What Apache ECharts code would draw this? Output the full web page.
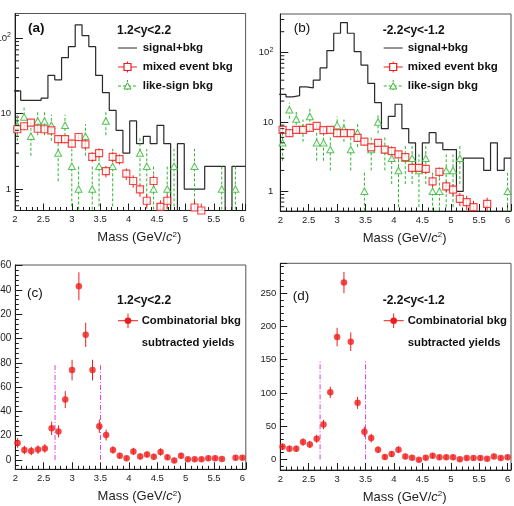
<!DOCTYPE html>
<html>
<head>
<meta charset="utf-8">
<title>Dimuon mass spectra</title>
<script src="https://cdn.jsdelivr.net/npm/echarts@6.0.0/dist/echarts.min.js"></script>
<style>
  html, body { margin: 0; padding: 0; background: #fff; }
  #chart { width: 514px; height: 506px; }
</style>
</head>
<body>
<div id="chart"></div>
<script>
// bin centres in GeV/c^2, bins are 0.12 wide
const massBins = [2.04, 2.16, 2.28, 2.40, 2.52, 2.64, 2.76, 2.88, 3.00, 3.12, 3.24, 3.36, 3.48, 3.60, 3.72, 3.84, 3.96,
  4.08, 4.20, 4.32, 4.44, 4.56, 4.68, 4.80, 4.92, 5.04, 5.16, 5.28, 5.40, 5.52, 5.64, 5.76, 5.88, 6.00]
const binHalf = 0.06
const massMin = 2
const massMax = 6.06
const massTicks = 0.5

// (a) 1.2<y<2.2
const sigBkgA = [20, 15, 15, 15, 16, 32, 28, 55, 77, 150, 108, 77, 32, 19, 11, 6, 3, 8, 4, 5, 4, 7, 4, 0, 4, 1, 1, 1, 2, 2, 2, 0, 2, 2]
const mixedA = [6.2, 6.8, 7.6, 6.3, 6.2, 6.0, 4.6, 4.6, 4.0, 4.9, 3.9, 2.67, 3.0, 1.73, 2.67, 2.5, 1.6, 1.28, 0.99, 0.70, 1.28, 0.58, 0.70,
  null, null, null, 0.57, 0.52, null, null, null, null, null, null]
const mixedErrA = [0.7, 0.75, 0.8, 0.7, 0.7, 0.7, 0.55, 0.55, 0.5, 0.6, 0.5, 0.4, 0.45, 0.3, 0.4, 0.38, 0.28, 0.24, 0.2, 0.15, 0.24, 0.13, 0.15,
  null, null, null, 0.13, 0.12, null, null, null, null, null, null]
const likeA = [7, 9, 5, 8, 8, 7, 3, 7, 2, 1, 5, 1, 2, 8, 2, null, null, null, 3, 2, 1, null, 1, 2, null, null, 2, null, null, null, 1, null, 1, null]
const likeErrA = [2.65, 3, 2.24, 2.83, 2.83, 2.65, 1.73, 2.65, 1.41, 1, 2.24, 1, 1.41, 2.83, 1.41, null, null, null, 1.73, 1.41, 1, null, 1, 1.41,
  null, null, 1.41, null, null, null, 1, null, 1, null]

// (b) -2.2<y<-1.2
const sigBkgB = [25, 23, 24, 32, 31, 40, 60, 107, 190, 271, 190, 103, 66, 36, 19, 8, 12, 18, 8, 5, 2, 5, 7, 5, 4, 4, 1, 3, 3, 3, 2, 5, 2, 3]
const mixedB = [7.7, 6.9, 7.7, 7.7, 8.2, 8.8, 7.6, 7.7, 6.9, 6.9, 6.9, 5.9, 5.2, 4.3, 5.0, 4.0, 3.8, 3.4, 3.1, 2.17, 2.17, 2.1, 1.39, 1.9,
  1.18, 1.06, 0.78, 0.70, 0.59, null, 0.66, null, null, null]
const mixedErrB = [0.8, 0.75, 0.8, 0.8, 0.85, 0.9, 0.8, 0.8, 0.75, 0.75, 0.75, 0.65, 0.6, 0.5, 0.55, 0.48, 0.45, 0.42, 0.4, 0.32, 0.32, 0.32,
  0.25, 0.3, 0.22, 0.2, 0.17, 0.16, 0.14, null, 0.15, null, null, null]
const likeB = [5, 15, 11, 8, 12, 5, 5, 4, 9, 8, 4, 7, 1, 4, 10, 4, 3, 2, 3, 3, 2, 3, 1, 1, 2, 2, 3, null, null, null, null, null, null, 1]
const likeErrB = [2.24, 3.87, 3.32, 2.83, 3.46, 2.24, 2.24, 2, 3, 2.83, 2, 2.65, 1, 2, 3.16, 2, 1.73, 1.41, 1.73, 1.73, 1.41, 1.73, 1, 1,
  1.41, 1.41, 1.73, null, null, null, null, null, null, 1]

// (c), (d) combinatorial background subtracted yields
const yieldC = [14, 8.2, 7.4, 8.5, 9.5, 26, 23.5, 49.7, 74, 143, 103, 74, 27.8, 20.5, 8.2, 3.5, 1.5, 7, 2.9, 4.5, 2.6, 6.6, 2.2, -0.5,
  3.5, 0.5, 0.5, 0.5, 1.5, 1.5, 0.7, null, 1.8, 1.8]
const yieldErrC = [4, 3.5, 3.5, 3.5, 3.5, 5.5, 5, 7, 8.5, 11.5, 10, 8.5, 5.5, 4.5, 3, 2.5, 2, 3, 2.5, 2.5, 2.5, 3, 2, 2, 2.5, 1.5, 1.5,
  1.5, 2, 2, 1.5, null, 2, 2]
const yieldD = [19, 16, 16, 26, 22.5, 31, 52.5, 101, 184, 266, 177, 85, 41.5, 32, 14.5, 3.5, 8, 14.5, 4.5, 2.5, -0.5, 2.5, 5.5, 3, 3, 3,
  0, 2, 2, 2, 1, 4.5, 2, 3]
const yieldErrD = [5, 4.5, 4.5, 5.5, 5.5, 6, 7, 8.5, 14, 16, 14, 9, 7.5, 6.5, 5, 4, 4.5, 5, 4, 3.5, 3, 3.5, 4, 3.5, 3.5, 3.5, 3, 3, 3,
  3, 3, 4, 3, 3.5]

// mass window drawn in (c) and (d)
const windowEdges = [2.7, 3.5]
const windowTopC = 78
const windowTopD = 150

// log axis minor ticks
const logMinorA = [0.6, 0.7, 0.8, 0.9, 2, 3, 4, 5, 6, 7, 8, 9, 20, 30, 40, 50, 60, 70, 80, 90, 200]
const logMinorB = [0.6, 0.7, 0.8, 0.9, 2, 3, 4, 5, 6, 7, 8, 9, 20, 30, 40, 50, 60, 70, 80, 90, 200, 300]

const FONT = '"Liberation Sans", Arial, Helvetica, sans-serif'
const INK = '#1c1c1c'
const RED = '#f01c1c'
const GREEN = '#2fb52f'
const MAGENTA = '#e03ce0'
const LOG_FLOOR = 0.1

const chart = echarts.init(document.getElementById('chart'))

function stepLine (vals) {
  const out = []
  massBins.forEach((m, i) => {
    const v = vals[i] > 0 ? vals[i] : LOG_FLOOR
    out.push([m - binHalf, v], [m + binHalf, v])
  })
  return out
}

function points (vals) {
  const out = []
  massBins.forEach((m, i) => { if (vals[i] !== null) out.push([m, vals[i]]) })
  return out
}

function errData (vals, errs, floor) {
  const out = []
  massBins.forEach((m, i) => {
    if (vals[i] === null) return
    let lo = vals[i] - errs[i]
    if (floor !== undefined && lo < floor) lo = floor
    out.push([m, lo, vals[i] + errs[i]])
  })
  return out
}

function errSeries (gi, data, color, dash) {
  return {
    type: 'custom', xAxisIndex: gi, yAxisIndex: gi, clip: true, silent: true, z: 3,
    encode: { x: 0, y: [1, 2] },
    renderItem: function (params, api) {
      const a = api.coord([api.value(0), api.value(1)])
      const b = api.coord([api.value(0), api.value(2)])
      return {
        type: 'line',
        shape: { x1: a[0], y1: a[1], x2: b[0], y2: b[1] },
        style: { stroke: color, lineWidth: 1, lineDash: dash || null }
      }
    },
    data: data
  }
}

function minorLogTicks (gi, vals) {
  return {
    type: 'custom', xAxisIndex: gi, yAxisIndex: gi, silent: true, z: 6,
    renderItem: function (params, api) {
      const c = api.coord([api.value(0), api.value(1)])
      return {
        type: 'line',
        shape: { x1: c[0], y1: c[1], x2: c[0] + 4, y2: c[1] },
        style: { stroke: INK, lineWidth: 1 }
      }
    },
    data: vals.map(v => [massMin, v])
  }
}

function massAxis (gi) {
  return {
    type: 'value', gridIndex: gi, min: massMin, max: massMax, interval: massTicks,
    name: 'Mass (GeV/{it|c}{sup|2})', nameLocation: 'middle', nameGap: 20,
    nameTextStyle: {
      fontSize: 13, fontFamily: FONT, color: INK, padding: [0, 0, 0, 18],
      rich: {
        it: { fontSize: 13, fontFamily: FONT, color: INK, fontStyle: 'italic' },
        sup: { fontSize: 8, fontFamily: FONT, color: INK, verticalAlign: 'top', padding: [0, 0, 6, 0] }
      }
    },
    axisLine: { onZero: false, lineStyle: { color: INK, width: 1 } },
    axisTick: { inside: true, length: 7, lineStyle: { color: INK } },
    minorTick: { show: true, splitNumber: 5, length: 3.5, lineStyle: { color: INK } },
    axisLabel: { fontSize: 9.5, fontFamily: FONT, color: INK, margin: 4, showMaxLabel: false },
    splitLine: { show: false }
  }
}

function decadeLabel (v) {
  const l = Math.log10(v)
  const e = Math.round(l)
  if (Math.abs(l - e) > 1e-6) return ''
  if (e === 0) return '1'
  if (e === 1) return '10'
  return '10{sup|' + e + '}'
}

function logAxis (gi, lo, hi, margin) {
  return {
    type: 'log', logBase: 10, gridIndex: gi, min: lo, max: hi, splitNumber: 3,
    axisLine: { onZero: false, lineStyle: { color: INK, width: 1 } },
    axisTick: { inside: true, length: 8, lineStyle: { color: INK } },
    axisLabel: {
      fontSize: 9.5, fontFamily: FONT, color: INK, margin: margin,
      showMinLabel: false, showMaxLabel: false, formatter: decadeLabel,
      rich: { sup: { fontSize: 7, fontFamily: FONT, color: INK, verticalAlign: 'top', padding: [0, 0, 6, 0] } }
    },
    splitLine: { show: false }
  }
}

function linAxis (gi, lo, hi, split, margin, size) {
  return {
    type: 'value', gridIndex: gi, min: lo, max: hi, splitNumber: split,
    axisLine: { onZero: false, lineStyle: { color: INK, width: 1 } },
    axisTick: { inside: true, length: 7, lineStyle: { color: INK } },
    minorTick: { show: true, splitNumber: 5, length: 3.5, lineStyle: { color: INK } },
    axisLabel: { fontSize: size, fontFamily: FONT, color: INK, margin: margin, showMinLabel: false, showMaxLabel: false },
    splitLine: { show: false }
  }
}

function histSeries (gi, vals) {
  return {
    type: 'line', xAxisIndex: gi, yAxisIndex: gi, data: stepLine(vals), symbol: 'none', clip: true, z: 2,
    lineStyle: { color: '#2a2a2a', width: 1.2 }
  }
}

function mixedSeries (gi, vals) {
  return {
    type: 'scatter', xAxisIndex: gi, yAxisIndex: gi, data: points(vals), symbol: 'rect', symbolSize: 7, clip: true, z: 5,
    itemStyle: { color: '#fff', borderColor: RED, borderWidth: 1.2 }
  }
}

function likeSeries (gi, vals) {
  return {
    type: 'scatter', xAxisIndex: gi, yAxisIndex: gi, data: points(vals), symbol: 'triangle', symbolSize: [7, 6.5], clip: true, z: 4,
    itemStyle: { color: '#fff', borderColor: GREEN, borderWidth: 1 }
  }
}

function yieldSeries (gi, vals) {
  return {
    type: 'scatter', xAxisIndex: gi, yAxisIndex: gi, data: points(vals), symbol: 'circle', symbolSize: 6.5, z: 5,
    itemStyle: { color: RED }
  }
}

function windowSeries (gi, top) {
  return windowEdges.map(m => ({
    type: 'line', xAxisIndex: gi, yAxisIndex: gi, data: [[m, 0], [m, top]], symbol: 'none', z: 2,
    lineStyle: { color: MAGENTA, width: 1, type: [5, 2, 1, 2] }
  }))
}

// legend and labels
function txt (x, y, text, size, bold) {
  return {
    type: 'text', x: x, y: y, silent: true,
    style: { text: text, font: (bold ? 'bold ' : '') + size + 'px ' + FONT, fill: '#111', verticalAlign: 'middle', textVerticalAlign: 'middle' }
  }
}
function seg (x1, y1, x2, y2, color, dash) {
  return { type: 'line', silent: true, shape: { x1, y1, x2, y2 }, style: { stroke: color, lineWidth: 1, lineDash: dash || null } }
}

function bkgLegend (x0, tx, rap, panel, boldPanel) {
  const cx = (x0 + x0 + 19) / 2
  return [
    txt(x0 - 90, 28, panel, 13.5, boldPanel),
    txt(x0 - 1, 31, rap, 12, true),
    seg(x0, 48, x0 + 19, 48, '#2a2a2a'),
    txt(tx, 48, 'signal+bkg', 11.5, true),
    seg(x0, 67, x0 + 19, 67, RED),
    seg(cx, 61.5, cx, 72.5, RED),
    { type: 'rect', silent: true, shape: { x: cx - 3.5, y: 63.5, width: 7, height: 7 }, style: { fill: '#fff', stroke: RED, lineWidth: 1.2 } },
    txt(tx, 67, 'mixed event bkg', 11.5, true),
    seg(x0, 86, x0 + 19, 86, GREEN, [3, 2]),
    seg(cx, 80, cx, 92, GREEN, [2, 2]),
    { type: 'polygon', silent: true, shape: { points: [[cx, 82.8], [cx + 3.5, 89], [cx - 3.5, 89]] }, style: { fill: '#fff', stroke: GREEN, lineWidth: 1 } },
    txt(tx, 86, 'like-sign bkg', 11.5, true)
  ]
}

function yieldLegend (x0, tx, rap, panel, panelY) {
  const cx = x0 + 10
  return [
    txt(x0 - 91, panelY, panel, 13.5, false),
    txt(x0 - 1, 300.5, rap, 12, true),
    seg(x0, 320.7, x0 + 20, 320.7, RED),
    seg(cx, 313.5, cx, 328, RED),
    { type: 'circle', silent: true, shape: { cx: cx, cy: 320.7, r: 3.3 }, style: { fill: RED } },
    txt(tx, 320.7, 'Combinatorial bkg', 11.3, true),
    txt(tx, 343, 'subtracted yields', 11.3, true)
  ]
}

const gridBase = { show: true, borderColor: '#555', borderWidth: 1, backgroundColor: 'transparent', containLabel: false, outerBoundsMode: 'none' }

const option = {
  animation: false,
  backgroundColor: '#fff',
  grid: [
    Object.assign({ left: 15, top: 13.5, width: 230.6, height: 197 }, gridBase),
    Object.assign({ left: 280.3, top: 14, width: 230.7, height: 197 }, gridBase),
    Object.assign({ left: 15.3, top: 265, width: 230.5, height: 204.3 }, gridBase),
    Object.assign({ left: 280.3, top: 263.3, width: 230.7, height: 206.7 }, gridBase)
  ],
  xAxis: [massAxis(0), massAxis(1), massAxis(2), massAxis(3)],
  yAxis: [
    logAxis(0, 0.52, 212, 4),
    logAxis(1, 0.52, 360, 7),
    linAxis(2, -7.7, 160.5, 8, 4, 10),
    linAxis(3, -16, 295, 6, 4, 9.5)
  ],
  series: [
    histSeries(0, sigBkgA),
    errSeries(0, errData(likeA, likeErrA, LOG_FLOOR), GREEN, [3, 2]),
    likeSeries(0, likeA),
    errSeries(0, errData(mixedA, mixedErrA, LOG_FLOOR), RED),
    mixedSeries(0, mixedA),
    minorLogTicks(0, logMinorA),

    histSeries(1, sigBkgB),
    errSeries(1, errData(likeB, likeErrB, LOG_FLOOR), GREEN, [3, 2]),
    likeSeries(1, likeB),
    errSeries(1, errData(mixedB, mixedErrB, LOG_FLOOR), RED),
    mixedSeries(1, mixedB),
    minorLogTicks(1, logMinorB),

    ...windowSeries(2, windowTopC),
    errSeries(2, errData(yieldC, yieldErrC), RED),
    yieldSeries(2, yieldC),

    ...windowSeries(3, windowTopD),
    errSeries(3, errData(yieldD, yieldErrD), RED),
    yieldSeries(3, yieldD)
  ],
  graphic: [
    ...bkgLegend(118, 142.7, '1.2<y<2.2', '(a)', true),
    ...bkgLegend(383.7, 407.7, '-2.2<y<-1.2', '(b)', false),
    ...yieldLegend(118, 141.7, '1.2<y<2.2', '(c)', 293),
    ...yieldLegend(383.7, 407.7, '-2.2<y<-1.2', '(d)', 296)
  ]
}

chart.setOption(option)
</script>
</body>
</html>
